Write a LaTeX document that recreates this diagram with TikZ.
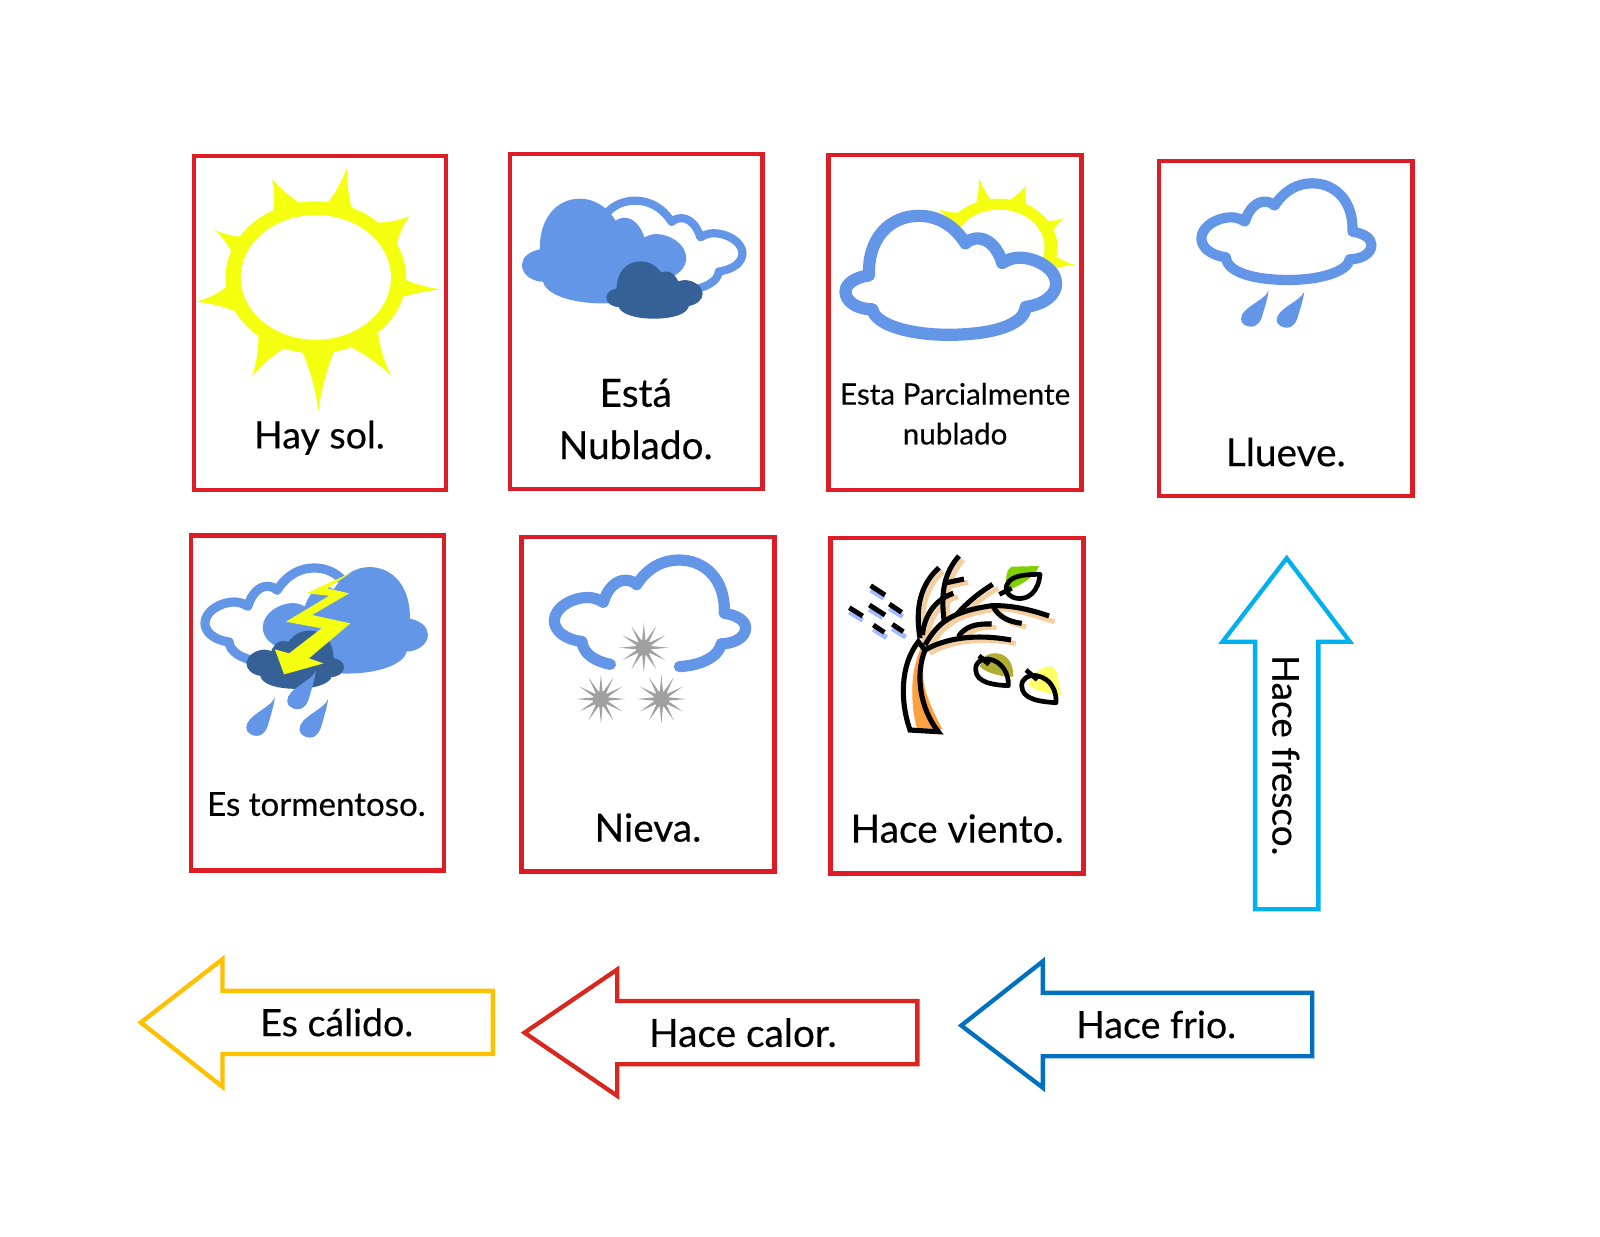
\documentclass[tikz,border=0pt]{standalone}
\usepackage{fontspec}
\setmainfont[FakeBold=0.35]{Lato}
\usetikzlibrary{calc}
\definecolor{cardred}{HTML}{DD1C25}
\definecolor{sunyel}{HTML}{F5FF10}
\definecolor{cloudblue}{HTML}{6496E8}
\definecolor{clouddark}{HTML}{366196}
\definecolor{flake}{HTML}{A0A0A0}
\definecolor{arrowyel}{HTML}{FFC000}
\definecolor{arrowred}{HTML}{D9261F}
\definecolor{arrowblue}{HTML}{0070C0}
\definecolor{arrowcyan}{HTML}{00B0F0}
\definecolor{peach}{HTML}{F5CFA0}
\definecolor{trunkor}{HTML}{FFA040}
\definecolor{rainblue}{HTML}{A0BBFF}
\definecolor{leafgreen}{HTML}{80D000}
\definecolor{leafolive}{HTML}{B0AE30}
\definecolor{leafyel}{HTML}{FFFF66}
% concave spike: base a, tip, base b
\newcommand{\spike}[3]{#1 .. controls ($ ($#1!.15!#3$)!.35!#2 $) and ($ ($#1!.25!#3$)!.7!#2 $) .. #2 .. controls ($ ($#3!.25!#1$)!.7!#2 $) and ($ ($#3!.15!#1$)!.35!#2 $) .. #3 -- cycle}
% cloud pieces, normalised: extents -215..215 by -145..145
\newcommand{\cloudarc}{(-153,77) .. controls (-195,70) and (-215,45) .. (-215,20) .. controls (-215,-15) and (-175,-43) .. (-140,-43) .. controls (-125,-43) and (-115,-37) .. (-105,-30) .. controls (-95,-70) and (-75,-90) .. (-55,-90) .. controls (-45,-90) and (-35,-85) .. (-30,-78) .. controls (-5,-125) and (30,-145) .. (65,-145) .. controls (125,-145) and (170,-90) .. (167,0) .. controls (195,5) and (215,20) .. (215,40) .. controls (215,65) and (190,83) .. (160,83)}
\newcommand{\cloudbot}{.. controls (155,120) and (85,145) .. (5,145) .. controls (-75,145) and (-150,125) .. (-153,77) -- cycle}
\newcommand{\drop}{(0,0) .. controls (-10,30) and (-70,50) .. (-70,85) .. controls (-70,100) and (-55,108) .. (-45,108) .. controls (-25,108) and (-18,85) .. (-15,70) .. controls (-10,50) and (-3,25) .. (0,0) -- cycle}
\tikzset{
  x=.5pt,y=-.5pt,
  card/.style={draw=cardred,line width=2.2pt,fill=white,line join=miter},
  lbl/.style={inner sep=0pt,font=\fontsize{19}{22}\selectfont,text=black},
  outl/.style={draw=cloudblue,fill=white,line cap=round,line join=round},
  solidc/.style={line width=2pt,line join=round},
  blockarrow/.style={line width=2.1pt,fill=white,line join=miter},
  treeline/.style={draw=black,line width=2.5pt,line cap=butt},
  peachline/.style={draw=peach,line width=2.4pt},
  raind/.style={draw=rainblue,line width=2.4pt},
  rainb/.style={draw=black,line width=2.4pt},
  leaf/.style={draw=black,line width=2.3pt,line join=round},
}
\begin{document}
\begin{tikzpicture}
\useasboundingbox (0,0) rectangle (1568,1212);
\fill[white] (0,0) rectangle (1568,1212);
% cards
\draw[card] (190,153) rectangle (437,480);
\draw[card] (500,151) rectangle (747,479);
\draw[card] (812,152) rectangle (1060,480);
\draw[card] (1136,158) rectangle (1384,486);
\draw[card] (187,525) rectangle (435,853);
\draw[card] (511,526) rectangle (759,854);
\draw[card] (814,527) rectangle (1062,856);
% sun
\begin{scope}[shift={(176.4,137.2)},xscale=.375,yscale=.3267,fill=sunyel]
\fill (355,412) ellipse [x radius=236,y radius=228];
\fill \spike{(385,190)}{(437,82)}{(450,210)};
\fill \spike{(510,248)}{(600,228)}{(565,320)};
\fill \spike{(590,420)}{(682,448)}{(578,472)};
\fill \spike{(517,575)}{(552,708)}{(448,622)};
\fill \spike{(402,636)}{(362,812)}{(320,636)};
\fill \spike{(272,625)}{(188,710)}{(205,585)};
\fill \spike{(148,515)}{(42,485)}{(122,440)};
\fill \spike{(135,335)}{(90,270)}{(160,290)};
\fill \spike{(243,212)}{(240,116)}{(315,190)};
\fill[white] (355,412) ellipse [x radius=196,y radius=187];
\end{scope}
% partly cloudy: sun behind cloud
\begin{scope}[shift={(793.8,137.2)},xscale=.3875,yscale=.3267,fill=sunyel]
\fill (478,322) ellipse [x radius=148,y radius=146];
\fill \spike{(420,190)}{(427,113)}{(458,180)};
\fill \spike{(505,180)}{(547,135)}{(547,195)};
\fill \spike{(600,243)}{(640,235)}{(616,272)};
\fill \spike{(625,350)}{(672,375)}{(600,390)};
\fill \spike{(375,218)}{(326,208)}{(352,248)};
\fill[white] (478,322) ellipse [x radius=115,y radius=113];
\end{scope}
\draw[outl,line width=6pt,shift={(931.8,269.8)},xscale=-.48,yscale=.402] \cloudarc \cloudbot;
% cloudy
\draw[outl,line width=4pt,shift={(647,242)},xscale=-.375,yscale=.313] \cloudarc \cloudbot;
\filldraw[solidc,draw=cloudblue,fill=cloudblue,shift={(592,246)},xscale=-.365,yscale=.34] \cloudarc \cloudbot;
\filldraw[solidc,draw=clouddark,fill=clouddark,shift={(641.4,284.2)},xscale=-.21,yscale=.18] \cloudarc \cloudbot;
% rain
\draw[outl,line width=5pt,shift={(1260.7,227)},xscale=.3875,yscale=.3267] \cloudarc \cloudbot;
\begin{scope}[shift={(793.8,137.2)},xscale=.3875,yscale=.3267]
\fill[cloudblue,shift={(1160,452)}] \drop;
\fill[cloudblue,shift={(1250,455)}] \drop;
\end{scope}
% storm
\draw[outl,line width=4.5pt,shift={(283,604)},xscale=.382,yscale=.327] \cloudarc \cloudbot;
\filldraw[solidc,draw=cloudblue,fill=cloudblue,shift={(338.4,607.9)},xscale=.367,yscale=.346] \cloudarc \cloudbot;
\filldraw[solidc,draw=clouddark,fill=clouddark,shift={(289.3,646.5)},xscale=.213,yscale=.183] \cloudarc \cloudbot;
\begin{scope}[shift={(176.4,514.5)},xscale=.375,yscale=.3267]
\fill[sunyel] (447,143) -- (330,205) -- (390,212) -- (277,290) -- (370,310) -- (285,385) -- (248,373) -- (272,448) -- (375,415) -- (337,400) -- (445,295) -- (345,270) -- (442,205) -- (385,190) -- cycle;
\fill[cloudblue,shift={(248,517)},scale=1.07] \drop;
\fill[cloudblue,shift={(355,437)},scale=1.07] \drop;
\fill[cloudblue,shift={(387,522)},scale=1.07] \drop;
\end{scope}
% snow
\draw[draw=cloudblue,line cap=round,line join=round,line width=5.5pt,shift={(637,601)},xscale=.436,yscale=.36] (-89,139) .. controls (-125,130) and (-150,110) .. \cloudarc .. controls (155,120) and (110,143) .. (66,145);
\begin{scope}[shift={(176.4,514.5)},xscale=.375,yscale=.3267]
\foreach \cx/\cy in {1212/368,1100/522,1258/522}{
  \begin{scope}[shift={(\cx,\cy)},xscale=.87]
  \fill[flake] (0,0) circle (24);
  \foreach \a in {0,30,...,330}{
    \fill[flake] (\a-13:22) -- (\a:74) -- (\a+13:22) -- cycle;
  }
  \end{scope}
}
\end{scope}
% wind tree
\begin{scope}[shift={(808.5,524.3)},xscale=.3267,yscale=.3267]
\foreach \x/\y in {137/165,133/223,193/220,73/231,145/283,202/281}{
  \draw[raind] (\x,\y) -- ++(40,25);
}
\foreach \x/\y/\u/\v in {137/152/43/28,133/210/47/30,193/207/37/25,73/218/40/25,145/270/33/22,202/268/33/22}{
  \draw[rainb] (\x,\y) -- ++(\u,\v);
}
\fill[trunkor] (292,330) .. controls (255,400) and (255,500) .. (275,578) -- (352,583) .. controls (310,500) and (275,430) .. (305,350) -- cycle;
\begin{scope}[shift={(14,10)}]
\draw[peachline] (300,330) .. controls (340,260) and (380,230) .. (500,212) .. controls (560,210) and (620,235) .. (675,250);
\draw[peachline] (395,238) .. controls (430,200) and (460,175) .. (505,150);
\draw[peachline] (505,215) .. controls (520,245) and (550,260) .. (590,265);
\draw[peachline] (300,345) .. controls (360,310) and (450,295) .. (558,315);
\draw[peachline] (400,305) .. controls (420,275) and (450,265) .. (500,267);
\draw[peachline] (285,310) .. controls (270,220) and (285,150) .. (340,100);
\draw[peachline] (400,65) .. controls (360,110) and (345,170) .. (358,262);
\draw[peachline] (355,145) -- (415,132);
\draw[peachline] (292,300) .. controls (300,230) and (340,190) .. (385,175);
\end{scope}
\draw[treeline,line join=miter] (300,345) -- (280,320) .. controls (225,390) and (225,500) .. (255,585) -- (340,590) .. controls (285,520) and (270,420) .. (300,345);
\draw[treeline] (300,330) .. controls (340,260) and (380,230) .. (500,212) .. controls (560,210) and (620,225) .. (672,243);
\draw[treeline] (395,238) .. controls (430,200) and (460,175) .. (503,148);
\draw[treeline] (505,215) .. controls (520,245) and (550,260) .. (590,265);
\draw[treeline] (300,345) .. controls (360,310) and (450,295) .. (558,315);
\draw[treeline] (400,305) .. controls (420,275) and (450,265) .. (500,267);
\draw[treeline] (285,310) .. controls (270,220) and (285,150) .. (342,98);
\draw[treeline] (402,63) .. controls (360,110) and (345,170) .. (358,262);
\draw[treeline] (355,145) -- (417,132);
\draw[treeline] (292,300) .. controls (300,230) and (340,190) .. (385,175);
% leaves
\fill[leafgreen] (545,165) .. controls (540,130) and (545,100) .. (560,95) -- (642,93) .. controls (630,125) and (590,150) .. (550,165) -- cycle;
\draw[leaf] (645,118) .. controls (640,170) and (610,195) .. (575,190) .. controls (550,185) and (535,165) .. (548,145) .. controls (560,120) and (610,118) .. (645,118) -- cycle;
\draw[leaf] (523,178) -- (560,160);
\fill[leafolive] (472,372) .. controls (490,345) and (565,340) .. (565,425) -- (545,425) .. controls (510,420) and (480,410) .. (465,395) -- cycle;
\draw[leaf] (490,372) .. controls (530,378) and (552,415) .. (550,452) .. controls (510,450) and (452,445) .. (452,403) .. controls (452,380) and (470,370) .. (490,372) -- cycle;
\draw[leaf] (462,362) -- (492,388);
\fill[leafyel] (610,450) .. controls (630,400) and (680,375) .. (695,410) -- (708,480) -- (680,475) .. controls (650,470) and (625,465) .. (610,450) -- cycle;
\draw[leaf] (635,422) .. controls (678,430) and (695,468) .. (693,503) .. controls (650,500) and (590,495) .. (590,452) .. controls (590,430) and (612,418) .. (635,422) -- cycle;
\draw[leaf] (603,405) -- (637,434);
\end{scope}
% block arrows
\draw[blockarrow,draw=arrowyel] (138,1002) -- (218,940) -- (218,971) -- (483,971) -- (483,1033) -- (218,1033) -- (218,1065) -- cycle;
\draw[blockarrow,draw=arrowred] (514,1012) -- (605,950) -- (605,981) -- (899,981) -- (899,1043) -- (605,1043) -- (605,1074) -- cycle;
\draw[blockarrow,draw=arrowblue] (942,1005) -- (1022,942) -- (1022,973) -- (1286,973) -- (1286,1035) -- (1022,1035) -- (1022,1066) -- cycle;
\draw[blockarrow,draw=arrowcyan] (1261,547) -- (1323,629) -- (1292,629) -- (1292,891) -- (1230,891) -- (1230,629) -- (1198,629) -- cycle;
% labels
\tikzset{smalltext/.style={font=\fontsize{14.5}{18}\selectfont},midtext/.style={font=\fontsize{18.4}{22}\selectfont}}
\node[lbl,midtext] (tsol) at (313,429) {Hay sol.};
\node[lbl] (testa) at (623,385) {Está};
\node[lbl] (tnub) at (623,436) {Nublado.};
\node[lbl,smalltext] (tpar) at (936,386) {Esta Parcialmente};
\node[lbl,smalltext] (tpar2) at (936,425) {nublado};
\node[lbl] (tllu) at (1260,443) {Llueve.};
\node[lbl,font=\fontsize{16.2}{20}\selectfont] (ttor) at (310,788) {Es tormentoso.};
\node[lbl] (tnie) at (635,811) {Nieva.};
\node[lbl] (tvie) at (938,812) {Hace viento.};
\node[lbl,midtext] (tcal) at (330,1002) {Es cálido.};
\node[lbl] (thot) at (728,1012) {Hace calor.};
\node[lbl,midtext] (tfri) at (1133,1004) {Hace frio.};
\node[lbl,font=\fontsize{18.1}{22}\selectfont,rotate=-90] (tfre) at (1260,740) {Hace fresco.};
\end{tikzpicture}
\end{document}
